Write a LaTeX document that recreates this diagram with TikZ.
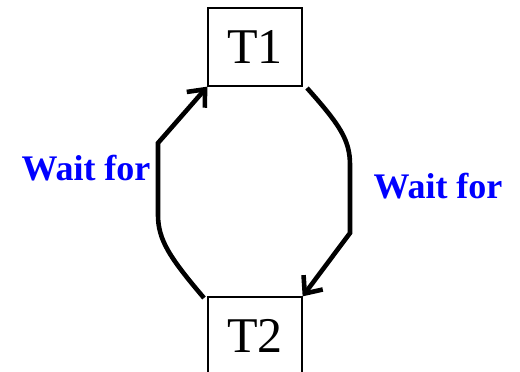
\documentclass[tikz,border=0pt]{standalone}
\usepackage{fontspec}
\setmainfont{Liberation Serif}
\usetikzlibrary{arrows.meta}
\begin{document}
\begin{tikzpicture}[x=1pt,y=-1pt,
  tbox/.style={draw,line width=1.3pt,minimum width=94pt,minimum height=78pt,inner sep=0pt,font=\fontsize{50}{50}\selectfont},
  waitlbl/.style={text=blue,font=\fontsize{36}{36}\selectfont\bfseries,inner sep=0pt},
  flow/.style={line width=4.6pt,-{Straight Barb[length=14pt,width=24pt,line width=4.6pt]}}]
\useasboundingbox (0,0) rectangle (520,372);
\node[tbox] (t1) at (255,47) {T1};
\node[tbox] (t2) at (255,336) {T2};
\node[waitlbl] (w1) at (86,168) {Wait for};
\node[waitlbl] (w2) at (438,186) {Wait for};
\coordinate (s1) at (204,298);
\coordinate (s2) at (307,88);
\draw[flow] (s1) .. controls (170,258) and (158,240) .. (158,215) -- (158,143) -- (t1.south west);
\draw[flow] (s2) .. controls (340,125) and (350,140) .. (350,165) -- (350,233) -- (t2.north east);
\end{tikzpicture}
\end{document}
